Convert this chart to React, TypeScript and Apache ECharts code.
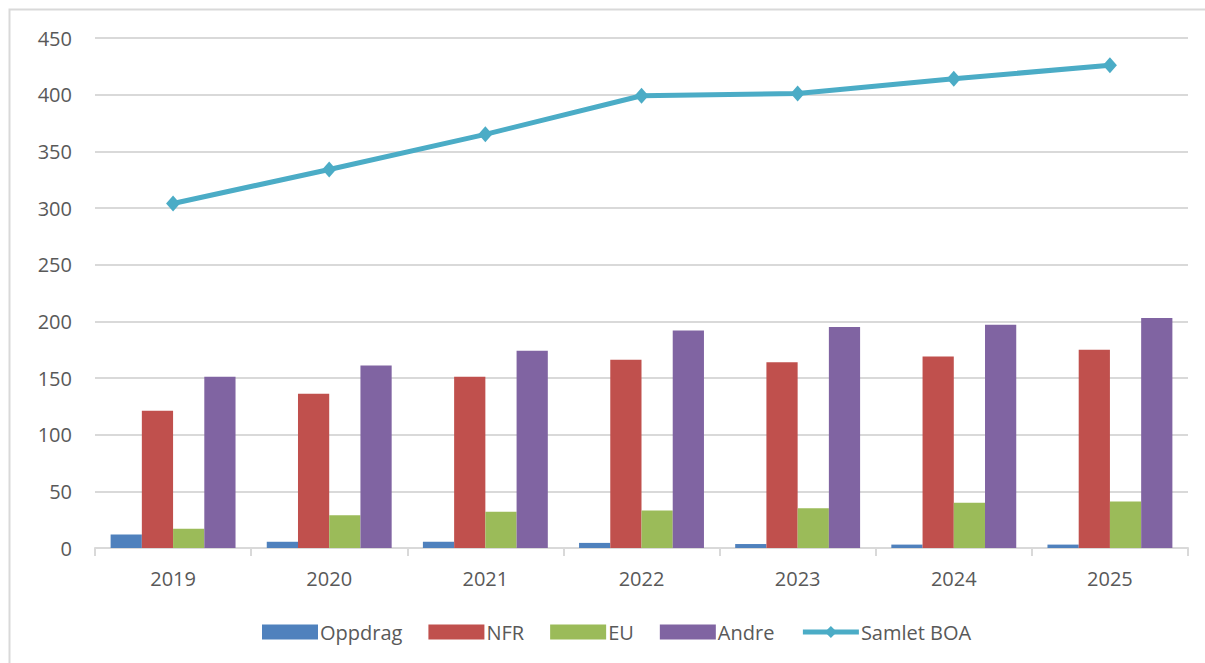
import React, { useEffect, useRef } from "react";
import * as echarts from "echarts";

const years = ["2019", "2020", "2021", "2022", "2023", "2024", "2025"];
const oppdrag = [12, 5.5, 5.5, 4.5, 3.5, 3, 3];
const nfr = [121, 136, 151, 166, 164, 169, 175];
const eu = [17, 29, 32, 33, 35, 40, 41];
const andre = [151, 161, 174, 192, 195, 197, 203];
const samletBoa = [304, 334, 365, 399, 401, 414, 426];

const FONT = "'Open Sans', sans-serif";
const TXT = "#595959";

export default function App() {
  const ref = useRef<HTMLDivElement>(null);
  useEffect(() => {
    if (!ref.current) return;
    const chart = echarts.init(ref.current, undefined, { renderer: "svg" });
    const barBase = {
      type: "bar" as const,
      barGap: "0%",
      barCategoryGap: "20%",
    };
    chart.setOption({
      animation: false,
      backgroundColor: "#ffffff",
      textStyle: { fontFamily: FONT },
      graphic: [
        {
          type: "rect",
          shape: { x: 9.5, y: 9.5, width: 1400, height: 1000 },
          style: { fill: "none", stroke: "#d9d9d9", lineWidth: 2 },
          silent: true,
          z: -10,
        },
      ],
      grid: { left: 95, right: 17, top: 38, bottom: 115, containLabel: false },
      legend: {
        left: 262,
        top: 622,
        padding: 0,
        itemWidth: 56,
        itemHeight: 15,
        itemGap: 26,
        textStyle: { fontFamily: FONT, fontSize: 20, color: TXT, padding: [0, 0, 0, -3] },
        data: [
          { name: "Oppdrag", icon: "rect" },
          { name: "NFR", icon: "rect" },
          { name: "EU", icon: "rect" },
          { name: "Andre", icon: "rect" },
          { name: "Samlet BOA", lineStyle: { width: 5 } },
        ],
      },
      xAxis: {
        type: "category",
        data: years,
        boundaryGap: true,
        axisLine: { lineStyle: { color: "#d9d9d9", width: 2 } },
        axisTick: { show: true, length: 8, lineStyle: { color: "#d9d9d9", width: 2 } },
        axisLabel: { fontFamily: FONT, fontSize: 20, color: TXT, margin: 20 },
      },
      yAxis: {
        type: "value",
        min: 0,
        max: 450,
        interval: 50,
        axisLine: { show: false },
        axisTick: { show: false },
        splitLine: { lineStyle: { color: "#d9d9d9", width: 2 } },
        axisLabel: { fontFamily: FONT, fontSize: 20, color: TXT, margin: 23 },
      },
      series: [
        { ...barBase, name: "Oppdrag", data: oppdrag, itemStyle: { color: "#4F81BD" } },
        { ...barBase, name: "NFR", data: nfr, itemStyle: { color: "#C0504D" } },
        { ...barBase, name: "EU", data: eu, itemStyle: { color: "#9BBB59" } },
        { ...barBase, name: "Andre", data: andre, itemStyle: { color: "#8064A2" } },
        {
          type: "line",
          name: "Samlet BOA",
          data: samletBoa,
          symbol: "diamond",
          symbolSize: [14, 16],
          lineStyle: { color: "#4BACC6", width: 5 },
          itemStyle: { color: "#4BACC6" },
          z: 5,
        },
      ],
    });
    return () => chart.dispose();
  }, []);
  return (
    <div
      ref={ref}
      style={{ position: "fixed", left: 0, top: 0, width: 1205, height: 663 }}
    />
  );
}
